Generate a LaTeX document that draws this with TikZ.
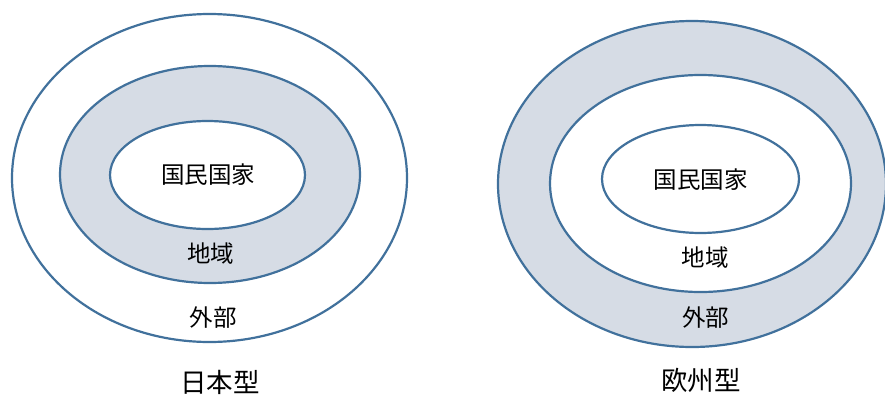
\documentclass[tikz,border=0pt]{standalone}
\usepackage{fontspec}
\newfontfamily\jp{Noto Sans CJK JP}
\usetikzlibrary{shapes.geometric}
\definecolor{ring}{HTML}{41719C}
\definecolor{band}{HTML}{D6DCE5}
\tikzset{
  oval/.style={ellipse, draw=ring, line width=2.2pt, inner sep=0pt},
  lbl/.style={font=\jp\fontsize{23.5}{23.5}\selectfont, text=black, inner sep=0pt},
  ttl/.style={font=\jp\fontsize{26.5}{26.5}\selectfont, text=black, inner sep=0pt}
}
\begin{document}
\begin{tikzpicture}[x=1pt,y=-1pt]
\useasboundingbox (0,0) rectangle (885,394);
% Japan type
\node[oval, fill=white, minimum width=395pt, minimum height=328pt] (jo) at (209.5,178) {};
\node[oval, fill=band, minimum width=300pt, minimum height=217pt] (jm) at (210,174.5) {};
\node[oval, fill=white, minimum width=195pt, minimum height=108pt] (ji) at (207.5,175) {};
\node[lbl] (jt1) at (208,174.5) {国民国家};
\node[lbl] (jt2) at (210.5,254) {地域};
\node[lbl] (jt3) at (213,317.5) {外部};
\node[ttl] (jt) at (220,382) {日本型};
% Europe type
\node[oval, fill=band, minimum width=388pt, minimum height=326pt] (eo) at (692,184) {};
\node[oval, fill=white, minimum width=301pt, minimum height=217pt] (em) at (700.5,183.5) {};
\node[oval, fill=white, minimum width=197pt, minimum height=108pt] (ei) at (700.5,179) {};
\node[lbl] (et1) at (700.5,180) {国民国家};
\node[lbl] (et2) at (705,257.5) {地域};
\node[lbl] (et3) at (705.5,318) {外部};
\node[ttl] (et) at (701,380) {欧州型};
\end{tikzpicture}
\end{document}
